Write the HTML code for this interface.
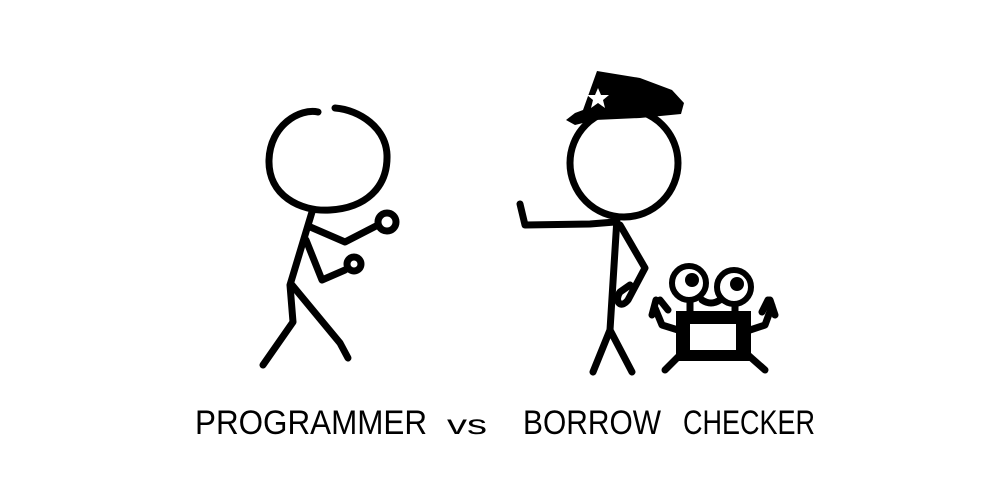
<!DOCTYPE html>
<html><head><style>html,body{margin:0;padding:0;background:#fff;width:1000px;height:483px;overflow:hidden}</style></head>
<body>
<svg width="1000" height="483" viewBox="0 0 1000 483" xmlns="http://www.w3.org/2000/svg">
<g fill="none" stroke="#000" stroke-width="7" stroke-linecap="round" stroke-linejoin="round">
<!-- programmer -->
<path d="M318 112 C300 108 270 125 269 160 C268 195 300 212 330 210 C365 208 388 188 387 155 C386 128 360 110 335 108"/>
<path d="M312 212 L290 285 L293 322 L263 365"/>
<path d="M292 285 L340 343 L348 358"/>
<path d="M308 226 L345 242 L378 225"/>
<circle cx="387" cy="222" r="9"/>
<path d="M306 240 L322 280 L345 270"/>
<circle cx="354" cy="264" r="7"/>
<!-- checker -->
<circle cx="624" cy="163" r="54"/>
<path d="M617 218 L610 330 L593 372"/>
<path d="M610 330 L632 372"/>
<path d="M615 222 L590 224 L525 225 L520 204"/>
<path d="M620 225 L645 268 L628 300 C620 310 614 300 620 292 L630 285"/>
<!-- ferris -->
<g stroke-width="6">
<circle cx="689" cy="283" r="17"/>
<circle cx="734" cy="287" r="17"/>
</g>
<path d="M702 300 Q711 306 720 300"/>
<path d="M690 301 L690 314 M735 305 L735 314"/>
<path d="M678 330 L662 325 L655 308 M750 330 L765 325 L772 306"/>
<path d="M680 355 L665 370 M748 355 L765 370"/>
<path d="M656 300 L652 315 M668 310 L660 300 M770 300 L775 315 M762 312 L768 300"/>
</g>
<circle cx="692" cy="280" r="7"/>
<circle cx="737" cy="284" r="7"/>
<rect x="676" y="311" width="75" height="50"/>
<rect x="690" y="324" width="46" height="26" fill="#fff"/>
<!-- hat -->
<path d="M597 71 L640 78 L672 90 L684 103 L681 114 L640 118 L595 120 L575 125 L566 120 L575 113 L583 110 Z"/>
<polygon points="598,88 601,95 609,95 603,100 605,108 598,103 591,108 593,100 587,95 595,95" fill="#fff"/>
<g font-family="Liberation Sans, sans-serif" font-size="34">
<text x="195" y="434" textLength="232" lengthAdjust="spacingAndGlyphs">PROGRAMMER</text>
<text x="447" y="434" font-size="28" textLength="40" lengthAdjust="spacingAndGlyphs">vs</text>
<text x="523" y="434" textLength="138" lengthAdjust="spacingAndGlyphs">BORROW</text>
<text x="683" y="434" textLength="132" lengthAdjust="spacingAndGlyphs">CHECKER</text>
</g>
</svg>
</body></html>
